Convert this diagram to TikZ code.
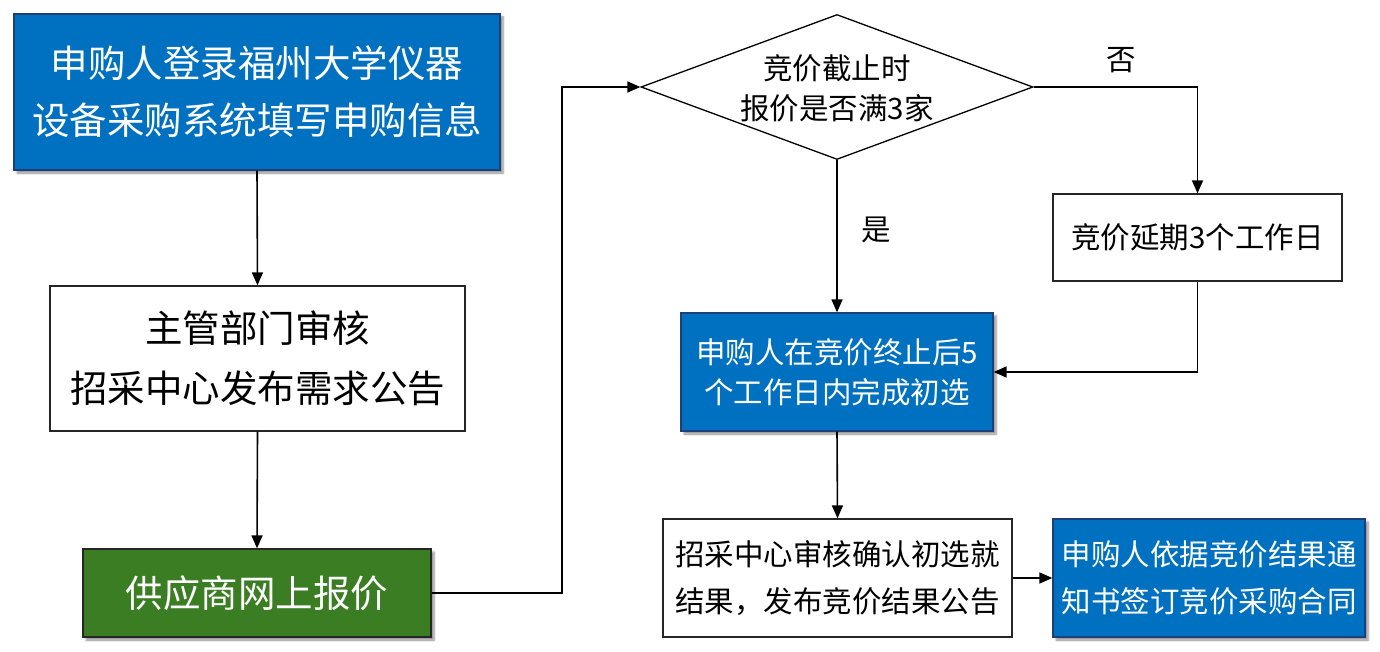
\documentclass[tikz,border=0pt]{standalone}
\usepackage{fontspec}
\setmainfont{Noto Sans CJK SC}
\usetikzlibrary{shapes.geometric,arrows.meta,shadows.blur}
\definecolor{bluefill}{HTML}{0070C0}
\definecolor{blueedge}{HTML}{1F3F7A}
\definecolor{greenfill}{HTML}{3A7D23}
\tikzset{
  big/.style={font=\fontsize{37.5}{57}\selectfont},
  small/.style={font=\fontsize{29.5}{42}\selectfont},
  shd/.style={blur shadow={shadow xshift=3pt,shadow yshift=-3pt,shadow blur steps=6,shadow opacity=45}},
  bluebox/.style={draw=blueedge,line width=1.3pt,fill=bluefill,text=white,align=center,inner sep=0pt,shd},
  whitebox/.style={draw=black!85,line width=1.3pt,fill=white,text=black,align=center,inner sep=0pt},
  greenbox/.style={draw=black!85,line width=1.3pt,fill=greenfill,text=white,align=center,inner sep=0pt,shd},
  arr/.style={line width=1.6pt,-{Triangle[length=13pt,width=11pt]}},
  ln/.style={line width=1.6pt}
}
\begin{document}
\begin{tikzpicture}[x=1pt,y=-1pt]
\useasboundingbox (0,0) rectangle (1380,652);
\node[bluebox,big,minimum width=486pt,minimum height=156pt] (b1) at (257,92)
  {申购人登录福州大学仪器\\设备采购系统填写申购信息};
\node[whitebox,font=\fontsize{37.5}{60}\selectfont,minimum width=415pt,minimum height=145pt] (b2) at (257.5,358.5)
  {主管部门审核\\招采中心发布需求公告};
\node[greenbox,big,minimum width=348pt,minimum height=88pt] (b3) at (257,593)
  {供应商网上报价};
\node[diamond,draw=black,line width=1.3pt,fill=white,inner sep=0pt,minimum width=392pt,minimum height=145pt] (d) at (837,87) {};
\node[align=center,font=\fontsize{29.5}{40}\selectfont] (dt) at (837,88) {竞价截止时\\报价是否满3家};
\node[whitebox,small,minimum width=289pt,minimum height=87pt] (b5) at (1197.5,237.5)
  {竞价延期3个工作日};
\node[bluebox,font=\fontsize{29.5}{40}\selectfont,minimum width=312pt,minimum height=118pt] (b6) at (837,372)
  {申购人在竞价终止后5\\个工作日内完成初选};
\node[whitebox,font=\fontsize{29.5}{47}\selectfont,minimum width=349pt,minimum height=118pt] (b7) at (837.5,578)
  {招采中心审核确认初选就\\结果，发布竞价结果公告};
\node[bluebox,font=\fontsize{29.5}{47}\selectfont,minimum width=312pt,minimum height=118pt] (b8) at (1209,578)
  {申购人依据竞价结果通\\知书签订竞价采购合同};
\node[small] (no) at (1121,60) {否};
\node[small] (yes) at (876,230) {是};
\coordinate (j1) at (562,593);
\draw[arr] (b1.south) -- (b2.north);
\draw[arr] (b2.south) -- (b3.north);
\draw[arr] (b3.east) -- (j1) |- (d.west);
\draw[arr] (d.east) -| (b5.north);
\draw[arr] (d.south) -- (b6.north);
\draw[arr] (b5.south) |- (b6.east);
\draw[arr] (b6.south) -- (b7.north);
\draw[arr] (b7.east) -- (b8.west);
\end{tikzpicture}
\end{document}
